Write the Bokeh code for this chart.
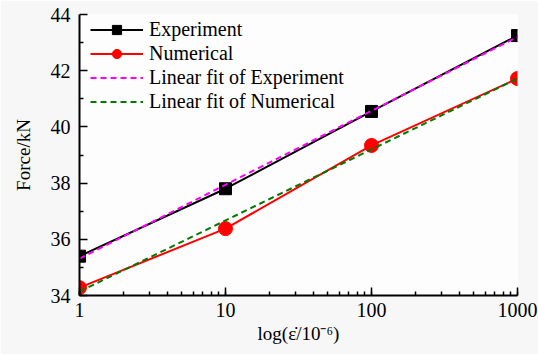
from bokeh.plotting import figure
from bokeh.models import Range1d, Legend, LegendItem, FixedTicker, LogTicker, NumeralTickFormatter
from bokeh.embed import file_html
from bokeh.resources import INLINE

rate = [1, 10, 100, 1000]
experiment = [35.4, 37.8, 40.55, 43.25]
numerical = [34.28, 36.38, 39.34, 41.72]
fit_experiment = [35.31, 37.94, 40.57, 43.2]
fit_numerical = [34.14, 36.67, 39.2, 41.72]
y_ticks = [34, 36, 38, 40, 42, 44]
y_minor_ticks = [35, 37, 39, 41, 43]

AXFONT = "Liberation Serif"
LEGFONT = "'Liberation Serif', 'Times New Roman', serif"

p = figure(width=538, height=354, x_axis_type="log", output_backend="svg",
           toolbar_location=None, x_range=Range1d(1, 1000), y_range=Range1d(34, 44),
           min_border_left=79, min_border_right=21, min_border_top=14, min_border_bottom=59)
p.background_fill_color = "#fdfdfd"
p.border_fill_color = "#f7f7f7"
p.outline_line_color = None
p.xgrid.visible = False
p.ygrid.visible = False

r1 = p.line(rate, experiment, line_color="black", line_width=2)
m1 = p.scatter(rate, experiment, marker="square", size=12, fill_color="black", line_color="black")
r2 = p.line(rate, numerical, line_color="red", line_width=2)
m2 = p.scatter(rate, numerical, marker="circle", size=14, fill_color="red", line_color="red")
r3 = p.line(rate, fit_experiment, line_color="#ff00ff", line_width=2, line_dash="6 4")
r4 = p.line(rate, fit_numerical, line_color="#007a00", line_width=2, line_dash="6 4")

legend = Legend(items=[
    LegendItem(label="Experiment", renderers=[r1, m1]),
    LegendItem(label="Numerical", renderers=[r2, m2]),
    LegendItem(label="Linear fit of Experiment", renderers=[r3]),
    LegendItem(label="Linear fit of Numerical", renderers=[r4]),
], location=(11, 182))
legend.background_fill_alpha = 0
legend.border_line_color = None
legend.label_text_font = LEGFONT
legend.label_text_font_size = "20px"
legend.label_text_color = "black"
legend.glyph_width = 53
legend.glyph_height = 23
legend.spacing = 1
legend.padding = 2
legend.margin = 0
legend.label_standoff = 6
legend.label_height = 23
p.add_layout(legend)

p.yaxis.ticker = FixedTicker(ticks=y_ticks, minor_ticks=y_minor_ticks)
p.xaxis.ticker = LogTicker(num_minor_ticks=10)
p.xaxis.formatter = NumeralTickFormatter(format="0")
for ax in (p.xaxis[0], p.yaxis[0]):
    ax.axis_line_width = 2
    ax.axis_line_color = "black"
    ax.major_tick_in = 8
    ax.major_tick_out = 0
    ax.minor_tick_in = 4
    ax.minor_tick_out = 0
    ax.major_tick_line_width = 1.5
    ax.minor_tick_line_width = 1.5
    ax.major_label_text_font = LEGFONT
    ax.major_label_text_font_size = "20px"
    ax.major_label_text_font_style = "normal"
    ax.major_label_text_color = "black"
    ax.axis_label_text_font = AXFONT
    ax.axis_label_text_font_size = "19px"
    ax.axis_label_text_font_style = "normal"
    ax.axis_label_text_color = "black"

p.xaxis.axis_label = "log(\u03b5\u0307/10\u207b\u2076)"
p.yaxis.axis_label = "Force/kN"
p.xaxis.major_label_standoff = 7
p.yaxis.major_label_standoff = 9
p.xaxis.axis_label_standoff = 3
p.yaxis.axis_label_standoff = 14

open("out.html", "w").write(file_html(p, INLINE))
